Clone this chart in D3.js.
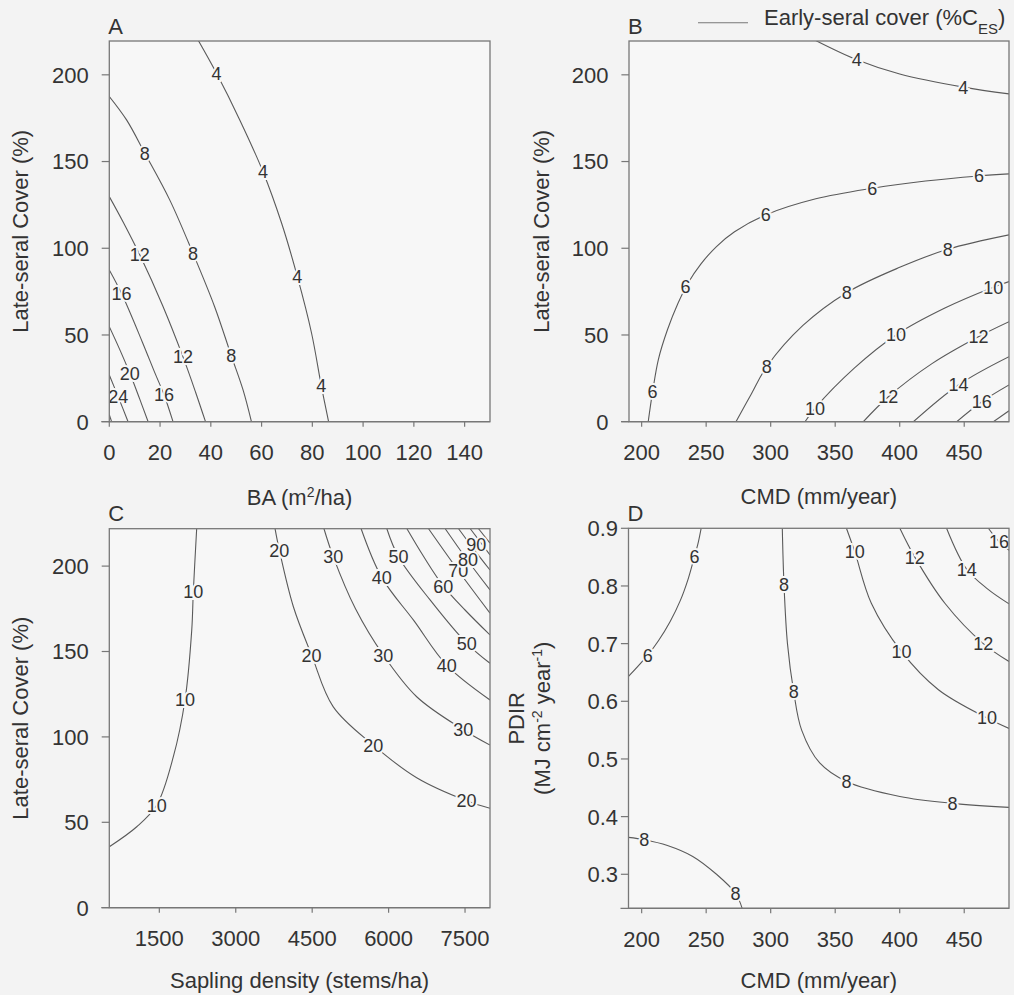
<!DOCTYPE html>
<html><head><meta charset="utf-8">
<script src="https://cdn.jsdelivr.net/npm/d3@7"></script>
<style>
html,body{margin:0;padding:0;background:#f3f3f3;}
text{font-family:"Liberation Sans",Arial,sans-serif;fill:#333;}
</style></head>
<body>
<svg id="chart" width="1014" height="995"></svg>
<script>
// ---------- DATA ----------
const ticksBA = [0,20,40,60,80,100,120,140];
const ticksCover = [0,50,100,150,200];
const ticksCMD = [200,250,300,350,400,450];
const ticksSapling = [1500,3000,4500,6000,7500];
const ticksPDIR = [0.3,0.4,0.5,0.6,0.7,0.8,0.9];

// Panel A: BA vs late-seral cover
const contoursA = [
  {level:4,  pts:[[35,220],[42.2,201],[51.4,174],[60.6,144],[67.9,114.4],[74.1,83.6],[79.7,51],[83.5,21],[86.4,0]]},
  {level:8,  pts:[[0,187.5],[6.8,174],[14,154.8],[23.8,127.9],[33,97],[41.5,66.3],[48.1,37.9],[52.7,18.3],[56,0]]},
  {level:12, pts:[[0,129.8],[5.5,115],[12,96.2],[21,67],[29,37.5],[34,17],[37.9,0]]},
  {level:16, pts:[[0,87.5],[4.8,74],[13,46],[18,28],[21.6,15.4],[25.1,0]]},
  {level:20, pts:[[0,54.8],[4,42],[8.1,27.9],[12,13],[15.3,0]]},
  {level:24, pts:[[0,26.9],[3.5,14.4],[7.4,0]]},
  {level:28, pts:[[0,4],[0.9,0]]}
];
const labelsA = [[4,42.2,201],[4,60.6,144],[4,74.1,83.6],[4,83.5,21],[8,14,154.8],[8,33,97],[8,48.1,37.9],
  [12,12,96.2],[12,29,37.5],[16,4.8,74],[16,21.6,15.4],[20,8.1,27.9],[24,3.5,14.4]];

// Panel B: CMD vs late-seral cover
const contoursB = [
  {level:4,  pts:[[334.3,220],[366.7,208.7],[400,200.5],[449.3,192.9],[484.7,189]]},
  {level:6,  pts:[[205.1,0],[208.5,17.3],[213,36],[220,53],[228,68],[236,80],[246,91],[258,101],[272,109.5],[296.1,119.2],[335,128.5],[378.8,134.6],[420,138.8],[461.5,141.7],[484.7,142.9]]},
  {level:8,  pts:[[273.1,0],[285,16],[296.9,31.7],[325,55.5],[358.9,74.4],[400,89],[437.2,99.4],[484.7,107.7]]},
  {level:10, pts:[[326.6,0],[334.3,7.7],[365,31],[397.1,50],[435,65.5],[472.5,77.5],[484.7,80.8]]},
  {level:12, pts:[[371.8,0],[391.2,14.4],[425,33.5],[461,49],[484.7,57.7]]},
  {level:14, pts:[[410.6,0],[445.5,21.2],[484.7,37.5]]},
  {level:16, pts:[[444.2,0],[463.6,11.5],[484.7,21.2]]},
  {level:18, pts:[[472.6,0],[484.7,6.3]]}
];
const labelsB = [[4,366.7,208.7],[4,449.3,192.9],[6,208.5,17.3],[6,234,77.9],[6,296.1,119.2],[6,378.8,134.6],[6,461.5,141.7],
  [8,296.9,31.7],[8,358.9,74.4],[8,437.2,99.4],[10,334.3,7.7],[10,397.1,50],[10,472.5,77.5],
  [12,391.2,14.4],[12,461,49],[14,445.5,21.2],[16,463.6,11.5]];

// Panel C: sapling density vs late-seral cover
const contoursC = [
  {level:10, pts:[[2233,222],[2167,185],[2136,162.5],[2004,121.6],[1775,88.4],[1449,60.1],[1057,47.4],[519,35.7]]},
  {level:20, pts:[[3771,222],[3855,209.4],[4131,176.2],[4489,147.9],[4914,117.6],[5699,95.2],[6551,76.1],[7531,62.6],[7990,58.2]]},
  {level:30, pts:[[4730,222],[4914,205.4],[5350,175],[5896,147.9],[6551,123.5],[7466,104.2],[7990,95.2]]},
  {level:40, pts:[[5459,222],[5864,193.4],[6500,167.9],[7139,142],[7990,121.6]]},
  {level:50, pts:[[5964,222],[6192,205.5],[6814,180.2],[7534,154.8],[7990,143.1]]},
  {level:60, pts:[[6357,222],[6700,205],[7075,188.3],[7500,174.3],[7990,159.7]]},
  {level:70, pts:[[6781,222],[7369,197.3],[7990,172.5]]},
  {level:80, pts:[[7108,222],[7534,204],[7990,186]]},
  {level:90, pts:[[7370,222],[7658,210.4],[7990,197.7]]},
  {level:100, pts:[[7600,222],[7990,206.5]]},
  {level:110, pts:[[7762,222],[7990,213.5]]}
];
const labelsC = [[10,2167,185],[10,2004,121.6],[10,1449,60.1],[20,3855,209.4],[20,4489,147.9],[20,5699,95.2],[20,7531,62.6],
  [30,4914,205.4],[30,5896,147.9],[30,7466,104.2],[40,5864,193.4],[40,7139,142],[50,6192,205.5],[50,7534,154.8],
  [60,7075,188.3],[70,7369,197.3],[80,7560,204],[90,7720,212.5]];

// Panel D: CMD vs PDIR
const contoursD = [
  {level:6,  pts:[[246.1,0.9],[243.5,0.872],[240.9,0.851],[236,0.812],[230,0.775],[222,0.738],[213,0.705],[204.7,0.68],[189.8,0.643]]},
  {level:8,  pts:[[309,0.9],[310.3,0.803],[313,0.7],[317.8,0.617],[324,0.55],[338,0.493],[358.7,0.461],[400.1,0.435],[441,0.423],[484.7,0.416]]},
  {level:8,  pts:[[189.8,0.364],[202.1,0.36],[220,0.35],[239.6,0.331],[258,0.3],[272.7,0.267],[277.9,0.241]]},
  {level:10, pts:[[358.7,0.9],[365.2,0.859],[378,0.77],[401.4,0.686],[430,0.62],[467.6,0.571],[484.7,0.553]]},
  {level:12, pts:[[400.1,0.9],[411.7,0.85],[435,0.77],[464.8,0.7],[484.7,0.669]]},
  {level:14, pts:[[436.3,0.9],[451.9,0.829],[468,0.795],[484.7,0.769]]},
  {level:16, pts:[[468.7,0.9],[476.9,0.877],[484.7,0.862]]}
];
const labelsD = [[6,240.9,0.851],[6,204.7,0.68],[8,310.3,0.803],[8,317.8,0.617],[8,358.7,0.461],[8,441,0.423],
  [8,202.1,0.36],[8,272.7,0.267],[10,365.2,0.859],[10,401.4,0.686],[10,467.6,0.571],[12,411.7,0.85],[12,464.8,0.7],
  [14,451.9,0.829],[16,476.9,0.877]];

// ---------- DRAWING ----------
const svg = d3.select("#chart");
const BG = "#f3f3f3", PLOTBG = "#f7f7f7", LINE = "#5a5a5a", FRAME = "#777";

const panels = [
  {id:"A", l:109.3, r:490, t:41, b:421.7, xd:[0,150], yd:[0,219.5], xt:ticksBA, yt:ticksCover,
   yfmt:d3.format("d"), ylabGap:20.5, contours:contoursA, labels:labelsA},
  {id:"B", l:629, r:1009, t:41, b:421.7, xd:[190.2,484.7], yd:[0,219.5], xt:ticksCMD, yt:ticksCover,
   yfmt:d3.format("d"), ylabGap:20.5, contours:contoursB, labels:labelsB},
  {id:"C", l:109.3, r:490, t:528.7, b:907.7, xd:[518,7990], yd:[0,221.9], xt:ticksSapling, yt:ticksCover,
   yfmt:d3.format("d"), ylabGap:20.5, contours:contoursC, labels:labelsC},
  {id:"D", l:628.5, r:1009, t:528.3, b:908.3, xd:[189.8,484.7], yd:[0.241,0.9], xt:ticksCMD, yt:ticksPDIR,
   yfmt:d3.format(".1f"), ylabGap:10.5, contours:contoursD, labels:labelsD}
];

svg.append("rect").attr("width",1014).attr("height",995).attr("fill",BG);

panels.forEach(p => {
  const x = d3.scaleLinear().domain(p.xd).range([p.l,p.r]);
  const y = d3.scaleLinear().domain(p.yd).range([p.b,p.t]);
  const g = svg.append("g");
  g.append("rect").attr("x",p.l).attr("y",p.t).attr("width",p.r-p.l).attr("height",p.b-p.t).attr("fill",PLOTBG);
  const clipId = "clip"+p.id;
  svg.append("clipPath").attr("id",clipId).append("rect")
    .attr("x",p.l).attr("y",p.t).attr("width",p.r-p.l).attr("height",p.b-p.t);
  const inner = g.append("g").attr("clip-path","url(#"+clipId+")");
  const line = d3.line().x(d=>x(d[0])).y(d=>y(d[1])).curve(d3.curveCatmullRom.alpha(0.5));
  inner.selectAll("path.c").data(p.contours).join("path")
    .attr("d",d=>line(d.pts)).attr("fill","none").attr("stroke",LINE).attr("stroke-width",1.1);
  inner.selectAll("text.lab").data(p.labels).join("text")
    .attr("x",d=>x(d[1])).attr("y",d=>y(d[2])).attr("dy","0.36em")
    .attr("text-anchor","middle").attr("font-size",18)
    .attr("stroke",PLOTBG).attr("stroke-width",4).attr("paint-order","stroke")
    .text(d=>d[0]);
  // frame
  g.append("rect").attr("x",p.l).attr("y",p.t).attr("width",p.r-p.l).attr("height",p.b-p.t)
    .attr("fill","none").attr("stroke",FRAME).attr("stroke-width",1.3);
  // extended bottom axis line
  g.append("line").attr("x1",p.l-8).attr("x2",p.r).attr("y1",p.b).attr("y2",p.b)
    .attr("stroke",FRAME).attr("stroke-width",1.3);
  // x ticks
  g.selectAll("line.xt").data(p.xt).join("line")
    .attr("x1",d=>x(d)).attr("x2",d=>x(d)).attr("y1",p.b).attr("y2",p.b+5)
    .attr("stroke",FRAME).attr("stroke-width",1.2);
  g.selectAll("text.xt").data(p.xt).join("text")
    .attr("x",d=>x(d)).attr("y",p.b+38.5).attr("text-anchor","middle").attr("font-size",22)
    .text(d=>d);
  // y ticks
  g.selectAll("line.yt").data(p.yt).join("line")
    .attr("x1",p.l-7.6).attr("x2",p.l).attr("y1",d=>y(d)).attr("y2",d=>y(d))
    .attr("stroke",FRAME).attr("stroke-width",1.2);
  g.selectAll("text.yt").data(p.yt).join("text")
    .attr("x",p.l-p.ylabGap).attr("y",d=>y(d)).attr("dy","0.36em").attr("text-anchor","end").attr("font-size",22)
    .text(d=>p.yfmt(d));
  // panel letter
  g.append("text").attr("x",p.l-1).attr("y",p.t-7.5).attr("font-size",22).text(p.id);
});

// axis titles
function xTitle(cx, by, parts){
  const t = svg.append("text").attr("x",cx).attr("y",by).attr("text-anchor","middle").attr("font-size",22);
  parts.forEach(pt => {
    const s = t.append("tspan").text(pt.t);
    if (pt.sup) s.attr("baseline-shift","super").attr("font-size",14);
    if (pt.sub) s.attr("baseline-shift","sub").attr("font-size",15);
  });
  return t;
}
xTitle(299.6, 505, [{t:"BA (m"},{t:"2",sup:true},{t:"/ha)"}]);
xTitle(818.8, 503.5, [{t:"CMD (mm/year)"}]);
xTitle(299.6, 988, [{t:"Sapling density (stems/ha)"}]);
xTitle(818.8, 987.5, [{t:"CMD (mm/year)"}]);

function yTitle(bx, cy, parts){
  const t = svg.append("text").attr("transform",`translate(${bx},${cy}) rotate(-90)`)
    .attr("text-anchor","middle").attr("font-size",22);
  parts.forEach(pt => {
    const s = t.append("tspan").text(pt.t);
    if (pt.sup) s.attr("baseline-shift","super").attr("font-size",14);
  });
}
yTitle(28, 231.3, [{t:"Late-seral Cover (%)"}]);
yTitle(549, 231.3, [{t:"Late-seral Cover (%)"}]);
yTitle(28, 718.2, [{t:"Late-seral Cover (%)"}]);
yTitle(524, 718.3, [{t:"PDIR"}]);
yTitle(550, 718.3, [{t:"(MJ cm"},{t:"-2",sup:true},{t:" year"},{t:"-1",sup:true},{t:")"}]);

// legend
svg.append("line").attr("x1",698).attr("x2",748).attr("y1",22.7).attr("y2",22.7).attr("stroke","#777").attr("stroke-width",1.1);
xTitle(764, 25, [{t:"Early-seral cover (%C"},{t:"ES",sub:true},{t:")"}]).attr("text-anchor","start");
</script>
</body></html>
